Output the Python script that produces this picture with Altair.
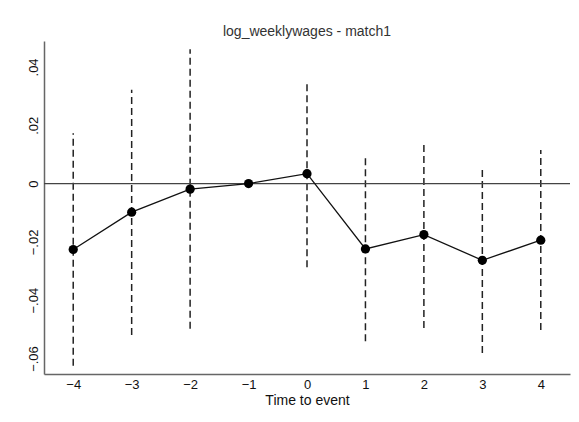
import altair as alt
import pandas as pd

times = [-4, -3, -2, -1, 0, 1, 2, 3, 4]
coef = [-0.0226, -0.0098, -0.0019, 0.0, 0.0034, -0.0224, -0.0175, -0.0263, -0.0194]
ci_hi = [0.0173, 0.0322, 0.0461, None, 0.0346, 0.0094, 0.0140, 0.0055, 0.0115]
ci_lo = [-0.0625, -0.0519, -0.0498, None, -0.0287, -0.0541, -0.0495, -0.0581, -0.0502]
x_ticks = [-4, -3, -2, -1, 0, 1, 2, 3, 4]
y_ticks = [-0.06, -0.04, -0.02, 0.0, 0.02, 0.04]

df = pd.DataFrame({"t": times, "b": coef, "hi": ci_hi, "lo": ci_lo})
ci_df = df.dropna()

FONT = "Liberation Sans"
xs = alt.Scale(domain=[-4.5, 4.5], nice=False, zero=False)
ys = alt.Scale(domain=[-0.0653, 0.0489], nice=False, zero=False)

x_axis = alt.Axis(values=x_ticks, title="Time to event", grid=False, ticks=False,
                  domainColor="#666666", domainWidth=1.5, labelPadding=4,
                  labelFontSize=13, labelColor="#111111", titleFontSize=14,
                  titleFontWeight="normal", titleColor="#111111", titlePadding=2,
                  labelFont=FONT, titleFont=FONT)
y_axis = alt.Axis(values=y_ticks, title=None, grid=False, ticks=False,
                  domainColor="#666666", domainWidth=1.5, labelAngle=-90,
                  labelAlign="center", labelBaseline="bottom", labelPadding=4,
                  labelFontSize=13, labelColor="#111111", labelFont=FONT,
                  labelExpr="datum.value == 0 ? '0' : replace(format(datum.value, '.2f'), '0.', '.')")

base = alt.Chart(df)

zero = alt.Chart(pd.DataFrame({"z": [0.0]})).mark_rule(color="#444444", strokeWidth=1.4).encode(
    y=alt.Y("z:Q", scale=ys, axis=y_axis)
)

ci = alt.Chart(ci_df).mark_rule(color="#222222", strokeWidth=1.5, strokeDash=[7, 4]).encode(
    x=alt.X("t:Q", scale=xs, axis=x_axis),
    y=alt.Y("lo:Q", scale=ys, axis=y_axis),
    y2="hi:Q",
)

line = base.mark_line(color="#111111", strokeWidth=1.3).encode(
    x=alt.X("t:Q", scale=xs, axis=x_axis),
    y=alt.Y("b:Q", scale=ys, axis=y_axis),
)

pts = base.mark_point(filled=True, color="#000000", size=85, opacity=1).encode(
    x=alt.X("t:Q", scale=xs, axis=x_axis),
    y=alt.Y("b:Q", scale=ys, axis=y_axis),
)

chart = alt.layer(ci, zero, line, pts).properties(
    width=526,
    height=333,
    title=alt.TitleParams("log_weeklywages - match1", fontSize=14, font=FONT,
                          fontWeight="normal", color="#333333", offset=2, anchor="middle"),
    autosize=alt.AutoSizeParams(type="none"),
    padding={"left": 44, "top": 41, "right": 9, "bottom": 48},
    background="white",
).configure_view(stroke=None)

chart.save("out.html", embed_options={"renderer": "svg", "actions": False})
